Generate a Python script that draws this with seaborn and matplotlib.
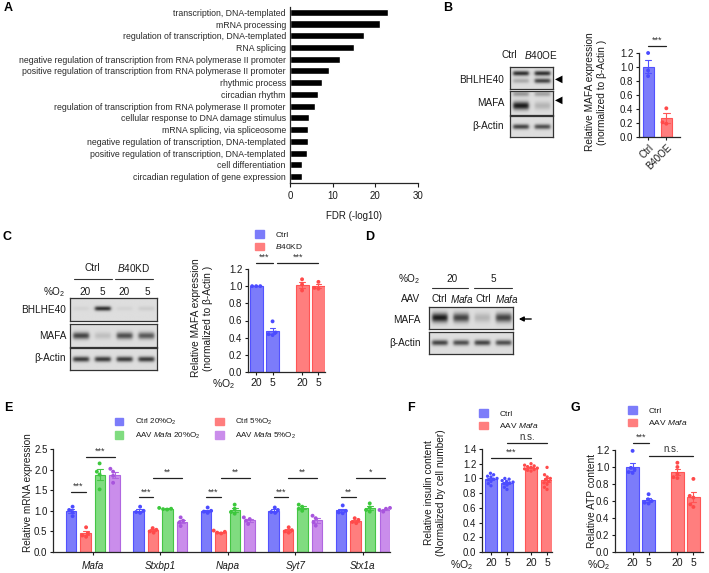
import numpy as np
import pandas as pd
import matplotlib
matplotlib.use('Agg')
import matplotlib.pyplot as plt
import matplotlib.colors as mcolors
from matplotlib.patches import Patch
import seaborn as sns

# ---------------- data ----------------
# A: GO terms
go_terms = ['transcription, DNA-templated', 'mRNA processing',
            'regulation of transcription, DNA-templated', 'RNA splicing',
            'negative regulation of transcription from RNA polymerase II promoter',
            'positive regulation of transcription from RNA polymerase II promoter',
            'rhythmic process', 'circadian rhythm',
            'regulation of transcription from RNA polymerase II promoter',
            'cellular response to DNA damage stimulus', 'mRNA splicing, via spliceosome',
            'negative regulation of transcription, DNA-templated',
            'positive regulation of transcription, DNA-templated',
            'cell differentiation', 'circadian regulation of gene expression']
go_fdr = [23.0, 21.2, 17.4, 15.0, 11.7, 9.1, 7.4, 6.5, 5.8, 4.5, 4.2, 4.2, 4.0, 2.9, 2.9]

# B: MAFA after BHLHE40 overexpression
b_groups = ['Ctrl', 'B40OE']
b_ctrl = [1.20, 0.95, 0.87]
b_oe = [0.41, 0.21, 0.19]
b_bhlhe40_upper = [0.85, 0.85]
b_bhlhe40_lower = [0.25, 0.75]
b_mafa = [0.95, 0.2]
b_mafa_upper = [0.35, 0.3]
b_actin = [0.75, 0.7]

# C: MAFA under hypoxia, Ctrl vs B40KD
o2_labels = ['20', '5', '20', '5']
c_ctrl20 = [1.00, 1.00, 1.00]
c_ctrl5 = [0.59, 0.46, 0.44, 0.43]
c_kd20 = [1.08, 1.02, 0.95]
c_kd5 = [1.05, 0.98, 0.97]
c_bhlhe40 = [0.05, 0.85, 0.05, 0.08]
c_mafa = [0.75, 0.15, 0.7, 0.65]
c_actin = [0.8, 0.8, 0.8, 0.8]

# D: blot
d_mafa = [0.95, 0.75, 0.2, 0.75]
d_actin = [0.75, 0.7, 0.75, 0.7]

# E: target genes
e_genes = ['Mafa', 'Stxbp1', 'Napa', 'Syt7', 'Stx1a']
e_ctrl20 = [[1.10, 1.02, 0.97, 0.87], [1.10, 1.00, 0.97, 0.95], [1.08, 1.00, 0.98, 0.95],
            [1.08, 1.02, 0.97, 0.95], [1.13, 1.00, 0.96, 0.94]]
e_ctrl5 = [[0.60, 0.45, 0.40, 0.37], [0.58, 0.54, 0.50, 0.47], [0.52, 0.49, 0.47, 0.45],
           [0.60, 0.53, 0.50, 0.47], [0.82, 0.78, 0.73, 0.70]]
e_mafa20 = [[2.15, 1.95, 1.88, 1.52], [1.07, 1.05, 1.04, 1.03], [1.15, 1.05, 0.97, 0.93],
            [1.15, 1.10, 1.05, 1.00], [1.18, 1.08, 1.02, 0.98]]
e_mafa5 = [[2.02, 1.95, 1.85, 1.68], [0.84, 0.76, 0.72, 0.63], [0.84, 0.80, 0.76, 0.68],
           [0.88, 0.82, 0.72, 0.64], [1.07, 1.05, 1.02, 0.98]]

# F: insulin content
f_ctrl20 = [1.07, 1.05, 1.03, 1.02, 1.00, 0.99, 0.98, 0.96, 0.93, 0.90]
f_ctrl5 = [1.00, 0.99, 0.97, 0.96, 0.95, 0.94, 0.93, 0.91, 0.88, 0.85]
f_mafa20 = [1.20, 1.18, 1.17, 1.16, 1.15, 1.14, 1.13, 1.12, 1.11, 1.10]
f_mafa5 = [1.15, 1.05, 1.02, 1.00, 0.98, 0.96, 0.94, 0.92, 0.88, 0.85]

# G: ATP content
g_ctrl20 = [1.19, 0.99, 0.97, 0.94, 0.93]
g_ctrl5 = [0.68, 0.62, 0.60, 0.58, 0.57]
g_mafa20 = [1.05, 1.00, 0.92, 0.88, 0.87]
g_mafa5 = [0.86, 0.66, 0.64, 0.56, 0.53]

# colours: fill, edge, dots
COLORS = {
    'blue': ('#7C7CFA', '#5252FF', '#4B4BFF'),
    'red': ('#FF7E7E', '#FF5555', '#FF4A4A'),
    'green': ('#80DC80', '#45C545', '#3CC83C'),
    'purple': ('#CA8DEB', '#B066E0', '#A855DD'),
}
EDGE_OF = {mcolors.to_hex(v[0]): v[1] for v in COLORS.values()}
TXT = '#1a1a1a'

sns.set_style('ticks')
plt.rcParams['font.family'] = ['Liberation Sans', 'DejaVu Sans']
plt.rcParams['mathtext.fontset'] = 'custom'
plt.rcParams['mathtext.rm'] = 'Liberation Sans'
plt.rcParams['mathtext.it'] = 'Liberation Sans:italic'
plt.rcParams['mathtext.bf'] = 'Liberation Sans:bold'
plt.rcParams['axes.linewidth'] = 0.9
plt.rcParams['text.color'] = TXT

W, H = 709, 573
fig = plt.figure(figsize=(W / 100, H / 100), dpi=100)


def px_axes(l, t, r, b):
    return fig.add_axes([l / W, 1 - b / H, (r - l) / W, (b - t) / H])


def ftext(x, y, s, **kw):
    kw.setdefault('ha', 'center')
    kw.setdefault('va', 'center')
    return fig.text(x / W, 1 - y / H, s, **kw)


def draw_blot(l, t, r, b, bands, bg=0.87):
    """bands: list of (relative y, thickness, lane intensities)"""
    ax = px_axes(l, t, r, b)
    n = len(bands[0][2])
    h, w = 60, 40 * n
    yy, xx = np.mgrid[0:h, 0:w]
    img = np.full((h, w), bg)
    lane = w / n
    for yc, thick, levels in bands:
        for i, lev in enumerate(levels):
            cx = (i + 0.5) * lane
            px = 1 / (1 + np.exp((np.abs(xx - cx) - 0.36 * lane) / 1.6))
            py = np.exp(-((yy - yc * h) / (thick * h)) ** 2)
            img = img - lev * 0.8 * px * py
    ax.imshow(np.clip(img, 0, 1), cmap='gray', vmin=0, vmax=1, aspect='auto',
              interpolation='bilinear')
    ax.set_xticks([])
    ax.set_yticks([])
    for s in ax.spines.values():
        s.set_linewidth(0.9)
        s.set_color('#333333')
    return ax


def long_df(groups, conds, xs=None):
    rows = []
    for i, (vals, c) in enumerate(zip(groups, conds)):
        for v in vals:
            rows.append({'x': xs[i] if xs is not None else c, 'cond': c, 'value': v})
    return pd.DataFrame(rows)


def style_bars(ax):
    for p in ax.patches:
        face = mcolors.to_hex(p.get_facecolor()[:3])
        p.set_edgecolor(EDGE_OF.get(face, '#333333'))
        p.set_linewidth(0.8)
    centers = [(p.get_x() + p.get_width() / 2, p) for p in ax.patches]
    for ln in ax.lines:
        xm = np.nanmean(np.asarray(ln.get_xdata(), dtype=float))
        p = min(centers, key=lambda c: abs(c[0] - xm))[1]
        ln.set_color(p.get_edgecolor())


def bar_panel(ax, df, cmap, size=3.0, **kw):
    fills = {k: COLORS[v][0] for k, v in cmap.items()}
    dots = {k: COLORS[v][2] for k, v in cmap.items()}
    sns.barplot(data=df, x='x', y='value', hue='cond', hue_order=list(cmap),
                palette=fills, errorbar='se', capsize=0.35, saturation=1,
                err_kws={'linewidth': 0.8}, legend=False, ax=ax, **kw)
    style_bars(ax)
    skw = {k: v for k, v in kw.items() if k in ('native_scale', 'order', 'dodge')}
    sns.swarmplot(data=df, x='x', y='value', hue='cond', hue_order=list(cmap),
                  palette=dots, size=size, legend=False, ax=ax, zorder=3, **skw)
    for coll in ax.collections:
        coll.set_clip_on(False)
    sns.despine(ax=ax)
    ax.tick_params(labelsize=7, length=2.5, width=0.8, pad=1.5, colors=TXT)
    ax.set_xlabel('')
    ax.set_ylabel('')


def sig(ax, x1, x2, y, txt, dy=0.02, fs=6.5):
    ax.plot([x1, x2], [y, y], color='#222222', lw=0.9, clip_on=False)
    ax.text((x1 + x2) / 2, y + dy, txt, ha='center', va='bottom', fontsize=fs,
            color='#333333', clip_on=False)


def legend_at(ax, items, x, y, ncol=1, fs=6.0, colsp=1.6):
    handles = [Patch(facecolor=COLORS[c][0], edgecolor=COLORS[c][0]) for _, c in items]
    labels = [l for l, _ in items]
    ax.legend(handles, labels, loc='upper left', bbox_to_anchor=(x / W, 1 - y / H),
              bbox_transform=fig.transFigure, frameon=False, fontsize=fs,
              handlelength=1.05, handleheight=1.05, handletextpad=1.4,
              labelspacing=0.45, borderpad=0, borderaxespad=0, ncol=ncol,
              columnspacing=colsp)


# ---------------- panel labels ----------------
for lab, x, y in [('A', 8, 8), ('B', 448, 8), ('C', 7, 237), ('D', 370, 237),
                  ('E', 8, 408), ('F', 411, 408), ('G', 575, 408)]:
    ftext(x, y, lab, fontsize=9, fontweight='bold', color='black')

# ---------------- A ----------------
ax = px_axes(290, 7, 418, 183)
sns.barplot(x=go_fdr, y=go_terms, color='black', width=0.6, orient='h',
            saturation=1, ax=ax)
ax.set_xlim(0, 30)
ax.set_ylim(14.55, -0.45)
ax.set_xticks([0, 10, 20, 30])
ax.tick_params(axis='y', length=0, labelsize=6.3, pad=3, colors='#2a2a2a')
ax.tick_params(axis='x', labelsize=7, length=3, width=0.8, pad=3, colors=TXT)
sns.despine(ax=ax)
ax.set_xlabel('FDR (-log10)', fontsize=7, labelpad=7, color=TXT)
ax.set_ylabel('')

# ---------------- B ----------------
draw_blot(510, 67, 553, 89, [(0.28, 0.11, b_bhlhe40_upper), (0.62, 0.11, b_bhlhe40_lower)])
draw_blot(510, 91, 553, 115, [(0.15, 0.1, b_mafa_upper), (0.62, 0.16, b_mafa)])
draw_blot(510, 116, 553, 137, [(0.5, 0.12, b_actin)])
for lab, y in [('BHLHE40', 80), ('MAFA', 103), ('β-Actin', 126)]:
    ftext(504, y, lab, ha='right', fontsize=7.2)
ftext(509, 55, 'Ctrl', fontsize=7.2)
ftext(541, 55, r'$\mathit{B40}$OE', fontsize=7.2)
ftext(559, 79, '◀', fontsize=7, color='black')
ftext(559, 100, '◀', fontsize=7, color='black')

ax = px_axes(639, 53, 680, 137)
df_b = long_df([b_ctrl, b_oe], b_groups)
bar_panel(ax, df_b, {'Ctrl': 'blue', 'B40OE': 'red'}, size=2.8,
          order=b_groups, width=0.6)
ax.set_ylim(0, 1.2)
ax.set_xlim(-0.5, 1.75)
ax.set_yticks(np.arange(0, 1.21, 0.2))
ax.set_yticklabels([f'{v:.1f}' for v in np.arange(0, 1.21, 0.2)])
ax.set_xticks([0, 1])
ax.set_xticklabels(b_groups, rotation=45, ha='right', rotation_mode='anchor')
sig(ax, 0, 1, 1.3, '***')
ftext(596, 92, 'Relative MAFA expression\n(normalized to β-Actin )', rotation=90,
      fontsize=7.3, linespacing=1.3)

# ---------------- C ----------------
draw_blot(70, 298, 157, 321, [(0.45, 0.1, c_bhlhe40)])
draw_blot(70, 324, 157, 347, [(0.5, 0.15, c_mafa)])
draw_blot(70, 348, 157, 370, [(0.5, 0.12, c_actin)])
for lab, y in [('BHLHE40', 310), ('MAFA', 336), ('β-Actin', 358)]:
    ftext(66, y, lab, ha='right', fontsize=7.2)
ftext(92, 268, 'Ctrl', fontsize=7.2)
ftext(134, 268, r'$\mathit{B40}$KD', fontsize=7.2)
for x1, x2 in [(74, 112), (115, 153)]:
    fig.add_artist(plt.Line2D([x1 / W, x2 / W], [1 - 279 / H] * 2, color='#333333', lw=0.8))
ftext(65, 292, '%O$_2$', ha='right', fontsize=7.2)
for x, s in zip([85, 102, 124, 147], o2_labels):
    ftext(x, 292, s, fontsize=7.2)

c_pos = [0, 1, 2.8, 3.8]
ax = px_axes(248, 269, 325, 372)
df_c = long_df([c_ctrl20, c_ctrl5, c_kd20, c_kd5],
               ['Ctrl', 'Ctrl', 'B40KD', 'B40KD'], xs=c_pos)
bar_panel(ax, df_c, {'Ctrl': 'blue', 'B40KD': 'red'}, size=2.8,
          native_scale=True, width=0.8)
ax.set_ylim(0, 1.2)
ax.set_xlim(-0.5, 4.2)
ax.set_yticks(np.arange(0, 1.21, 0.2))
ax.set_yticklabels([f'{v:.1f}' for v in np.arange(0, 1.21, 0.2)])
ax.set_xticks(c_pos)
ax.set_xticklabels(o2_labels, fontsize=7.5)
sig(ax, 0, 1, 1.27, '***')
sig(ax, 1.3, 3.8, 1.27, '***')
ftext(235, 384, '%O$_2$', ha='right', fontsize=7.5)
ftext(202, 318, 'Relative MAFA expression\n(normalized to β-Actin )', rotation=90,
      fontsize=7.3, linespacing=1.3)
legend_at(ax, [('Ctrl', 'blue'), (r'$\mathit{B40}$KD', 'red')], 255, 230)

# ---------------- D ----------------
draw_blot(429, 307, 513, 329, [(0.5, 0.2, d_mafa)])
draw_blot(429, 332, 513, 354, [(0.5, 0.12, d_actin)])
ftext(421, 320, 'MAFA', ha='right', fontsize=7.2)
ftext(421, 343, 'β-Actin', ha='right', fontsize=7.2)
ftext(420, 279, '%O$_2$', ha='right', fontsize=7.2)
ftext(452, 279, '20', fontsize=7.2)
ftext(493, 279, '5', fontsize=7.2)
for x1, x2 in [(432, 468), (474, 512)]:
    fig.add_artist(plt.Line2D([x1 / W, x2 / W], [1 - 288 / H] * 2, color='#333333', lw=0.8))
ftext(420, 299, 'AAV', ha='right', fontsize=7.2)
for x, s in zip([439, 462, 483, 507], ['Ctrl', r'$\mathit{Mafa}$', 'Ctrl', r'$\mathit{Mafa}$']):
    ftext(x, 299, s, fontsize=7.2)
fig.add_artist(matplotlib.patches.FancyArrowPatch((534 / W, 1 - 319 / H), (516 / W, 1 - 319 / H),
               transform=fig.transFigure, arrowstyle='-|>', mutation_scale=7,
               color='black', lw=1.0))

# ---------------- E ----------------
e_conds = ['Ctrl 20%O$_2$', 'Ctrl 5%O$_2$', r'AAV $\mathit{Mafa}$ 20%O$_2$',
           r'AAV $\mathit{Mafa}$ 5%O$_2$']
rows = []
for series, cond in zip([e_ctrl20, e_ctrl5, e_mafa20, e_mafa5], e_conds):
    for gene, vals in zip(e_genes, series):
        for v in vals:
            rows.append({'x': gene, 'cond': cond, 'value': v})
df_e = pd.DataFrame(rows)
ax = px_axes(53, 449, 390, 552)
bar_panel(ax, df_e, dict(zip(e_conds, ['blue', 'red', 'green', 'purple'])), size=2.8,
          order=e_genes, dodge=True, width=0.86, gap=0.28)
ax.set_ylim(0, 2.5)
ax.set_xlim(-0.59, 4.4)
ax.set_yticks(np.arange(0, 2.51, 0.5))
ax.set_yticklabels([f'{v:.1f}' for v in np.arange(0, 2.51, 0.5)])
ax.set_xticks(range(len(e_genes)))
ax.set_xticklabels(e_genes, fontstyle='italic', fontsize=7.2)
ax.tick_params(axis='x', pad=4)
off = 0.86 / 4
for g in range(len(e_genes)):
    b, r, p = g - 1.5 * off, g - 0.5 * off, g + 1.5 * off
    if g == 0:
        sig(ax, b, r, 1.46, '***')
        sig(ax, r, p, 2.31, '***')
    else:
        sig(ax, b, r, 1.33, '**' if g == 4 else '***')
        sig(ax, r, p, 1.80, '*' if g == 4 else '**')
ftext(28, 493, 'Relative mRNA expression', rotation=90, fontsize=7.2)
legend_at(ax, [(e_conds[0], 'blue'), (e_conds[2], 'green'), (e_conds[1], 'red'),
               (e_conds[3], 'purple')], 115, 417, ncol=2, fs=5.8, colsp=1.9)

# ---------------- F ----------------
f_pos = [0, 1, 2.5, 3.5]
ax = px_axes(482, 449, 552, 552)
df_f = long_df([f_ctrl20, f_ctrl5, f_mafa20, f_mafa5],
               ['Ctrl', 'Ctrl', 'AAV Mafa', 'AAV Mafa'], xs=f_pos)
bar_panel(ax, df_f, {'Ctrl': 'blue', 'AAV Mafa': 'red'}, size=2.4,
          native_scale=True, width=0.8)
ax.set_ylim(0, 1.4)
ax.set_xlim(-0.56, 3.81)
ax.set_yticks(np.arange(0, 1.41, 0.2))
ax.set_yticklabels([f'{v:.1f}' for v in np.arange(0, 1.41, 0.2)])
ax.set_xticks(f_pos)
ax.set_xticklabels(o2_labels, fontsize=7.5)
sig(ax, 0, 2.5, 1.28, '***')
sig(ax, 1, 3.5, 1.48, 'n.s.', fs=7)
ftext(473, 565, '%O$_2$', ha='right', fontsize=7.5)
ftext(435, 493, 'Relative insulin content\n(Normalized by cell number)', rotation=90,
      fontsize=7.3, linespacing=1.3)
legend_at(ax, [('Ctrl', 'blue'), (r'AAV $\mathit{Mafa}$', 'red')], 479, 409)

# ---------------- G ----------------
g_pos = [0, 1, 2.8, 3.8]
ax = px_axes(615, 450, 703, 552)
df_g = long_df([g_ctrl20, g_ctrl5, g_mafa20, g_mafa5],
               ['Ctrl', 'Ctrl', 'AAV Mafa', 'AAV Mafa'], xs=g_pos)
bar_panel(ax, df_g, {'Ctrl': 'blue', 'AAV Mafa': 'red'}, size=2.8,
          native_scale=True, width=0.8)
ax.set_ylim(0, 1.2)
ax.set_xlim(-1.1, 4.4)
ax.set_yticks(np.arange(0, 1.21, 0.2))
ax.set_yticklabels([f'{v:.1f}' for v in np.arange(0, 1.21, 0.2)])
ax.set_xticks(g_pos)
ax.set_xticklabels(o2_labels, fontsize=7.5)
sig(ax, 0, 1, 1.28, '***')
sig(ax, 1, 3.8, 1.13, 'n.s.', fs=7)
ftext(610, 565, '%O$_2$', ha='right', fontsize=7.5)
ftext(592, 501, 'Relative ATP content', rotation=90, fontsize=7.3)
legend_at(ax, [('Ctrl', 'blue'), (r'AAV $\mathit{Mafa}$', 'red')], 628, 406)

fig.savefig('out.png', dpi=100, facecolor='white')
